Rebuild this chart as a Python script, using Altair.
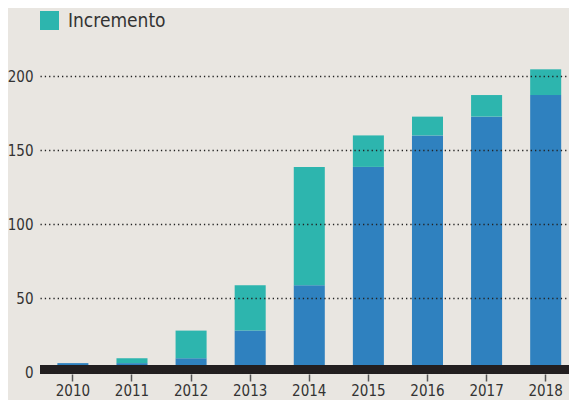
import altair as alt
import pandas as pd

years = ["2010", "2011", "2012", "2013", "2014", "2015", "2016", "2017", "2018"]
base = [6, 6, 9.3, 28, 58.7, 138.7, 160, 172.7, 187.3]
total = [6, 9.3, 28, 58.7, 138.7, 160, 172.7, 187.3, 204.7]
y_ticks = [0, 50, 100, 150, 200]

df = pd.DataFrame({"year": years, "base": base, "total": total, "label": "Incremento"})

FONT = "Liberation Sans Narrow, DejaVu Sans Condensed, Roboto, sans-serif"
BLUE = "#2F81BF"
TEAL = "#2DB5AE"

x = alt.X("year:O", title=None,
          scale=alt.Scale(paddingInner=0.475, paddingOuter=0.213, align=0.69),
          axis=alt.Axis(labelAngle=0, domain=False, ticks=True, tickSize=7, tickWidth=1.5,
                        tickColor="#555", offset=2, labelPadding=2, labelFontSize=15,
                        labelColor="#333", labelFont=FONT))
yscale = alt.Scale(domain=[0, 211], nice=False)

base_bars = alt.Chart(df).mark_bar(color=BLUE).encode(
    x=x,
    y=alt.Y("base:Q", scale=yscale, title=None,
            axis=alt.Axis(values=y_ticks, domain=False, ticks=False, labelPadding=7,
                          labelFontSize=15, labelColor="#333", labelFont=FONT,
                          grid=True, gridColor="#222", gridDash=[1.3, 3], gridWidth=1.3,
                          zindex=1)),
)

inc_bars = alt.Chart(df).mark_bar().encode(
    x=x,
    y=alt.Y("total:Q", scale=yscale),
    y2="base:Q",
    color=alt.Color("label:N", scale=alt.Scale(domain=["Incremento"], range=[TEAL]),
                    legend=alt.Legend(title=None, orient="none", legendX=0, legendY=-49,
                                      symbolType="square", symbolSize=361, symbolStrokeWidth=0,
                                      labelFontSize=19, labelFont=FONT, labelColor="#333",
                                      labelOffset=9, symbolOpacity=1)),
)

baseline = alt.Chart(df).mark_rule(color="#231F20", strokeWidth=8, yOffset=-2.5).encode(
    y=alt.datum(0, scale=yscale)
)

chart = alt.layer(base_bars, inc_bars, baseline).properties(
    width=529, height=312,
    background="#E9E6E1",
    padding={"left": 32, "top": 52, "right": 0, "bottom": 28},
    autosize=alt.AutoSizeParams(type="none"),
).configure_view(stroke=None)

chart.save("out.html", embed_options={"renderer": "svg", "actions": False})
